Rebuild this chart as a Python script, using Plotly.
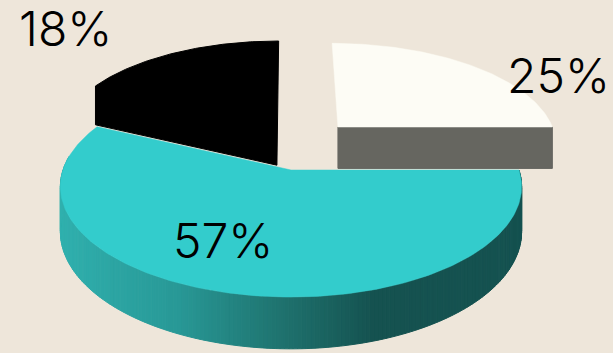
import math
import plotly.graph_objects as go

# Share of each slice, clockwise from the top of the pie
slice_labels = ["25%", "57%", "18%"]
slice_values = [25, 57, 18]
slice_names = ["White", "Teal", "Black"]

BACKGROUND = "#EEE6DA"
TOP_COLORS = ["#FDFCF5", "#33CCCC", "#000000"]
WALL_COLORS = ["#666660", "#155250", "#000000"]

# Exploded offset of each slice on the pie's ground plane
OFFSETS = [(0.219, 0.423), (0.0, 0.0), (-0.066, 0.455)]

# Projection of the tilted pie onto the page
CX, CY = 291.0, 170.0
RX, RY = 228.0, 108.0
DEPTH = 44.0
PERSPECTIVE = 0.15


def project(px, py, pz=0.0):
    scale = 1.0 / (1.0 + PERSPECTIVE * py)
    return CX + RX * px * scale, CY - RY * py * scale + DEPTH * pz * scale


def rim(offset, start, end, steps=90):
    angles = [start + (end - start) * i / steps for i in range(steps + 1)]
    return [(offset[0] + math.cos(a), offset[1] + math.sin(a)) for a in angles]


def polygon(points, color, width=1.0):
    xs, ys = zip(*points)
    return go.Scatter(
        x=list(xs) + [xs[0]], y=list(ys) + [ys[0]],
        mode="lines", fill="toself", fillcolor=color,
        line=dict(color=color, width=width), hoverinfo="skip", showlegend=False,
    )


def side_shade(x):
    # Side wall of the teal slice darkens from left to right, then stays flat
    stops = [(60, (48, 176, 174)), (180, (40, 152, 150)), (290, (30, 112, 108)),
             (375, (21, 82, 80)), (522, (21, 82, 80))]
    for (x0, c0), (x1, c1) in zip(stops, stops[1:]):
        if x <= x1:
            t = max(0.0, (x - x0) / (x1 - x0))
            return "rgb(%d,%d,%d)" % tuple(round(a + (b - a) * t) for a, b in zip(c0, c1))
    return "rgb(%d,%d,%d)" % stops[-1][1]


# Slice angles follow from the values, clockwise from 12 o'clock
total = sum(slice_values)
angles = [math.pi / 2]
for value in slice_values:
    angles.append(angles[-1] - 2 * math.pi * value / total)

fig = go.Figure()

# Black slice: cut face towards the viewer plus top face, one flat colour
off = OFFSETS[2]
arc = rim(off, angles[2], angles[3])
outline = [project(off[0], off[1], 1), project(arc[0][0], arc[0][1], 1)]
outline += [project(*p) for p in arc]
fig.add_trace(polygon(outline, WALL_COLORS[2]))

# White slice: grey cut face along its lower edge, then the top face
off = OFFSETS[0]
arc = rim(off, angles[0], angles[1])
end = arc[-1]
fig.add_trace(polygon(
    [project(*off), project(*end), project(end[0], end[1], 1), project(off[0], off[1], 1)],
    WALL_COLORS[0],
))
fig.add_trace(polygon([project(*off)] + [project(*p) for p in arc], TOP_COLORS[0], 0.5))

# Teal slice: outer wall in narrow shaded strips, then the top face
teal_arc = rim(OFFSETS[1], angles[1], angles[2], steps=220)
for a, b in zip(teal_arc, teal_arc[1:]):
    if a[1] > 0.12:
        continue
    strip = [project(*a), project(*b), project(b[0], b[1], 1), project(a[0], a[1], 1)]
    fig.add_trace(polygon(strip, side_shade(project(*a)[0])))
fig.add_trace(polygon([project(*OFFSETS[1])] + [project(*p) for p in teal_arc], TOP_COLORS[1], 0.5))

# Percentage labels
label_positions = [(558, 75), (223, 240), (65, 28)]
for text, (lx, ly) in zip(slice_labels, label_positions):
    fig.add_annotation(
        x=lx, y=ly, text=text, showarrow=False,
        font=dict(family="Inter", size=48, color="#000000", weight=350),
        xanchor="center", yanchor="middle",
    )

fig.update_layout(
    width=613, height=353,
    margin=dict(l=0, r=0, t=0, b=0),
    paper_bgcolor=BACKGROUND, plot_bgcolor=BACKGROUND,
    showlegend=False,
    xaxis=dict(range=[0, 613], visible=False, fixedrange=True),
    yaxis=dict(range=[353, 0], visible=False, fixedrange=True),
)
fig.write_html("out.html", config=dict(displayModeBar=False))
